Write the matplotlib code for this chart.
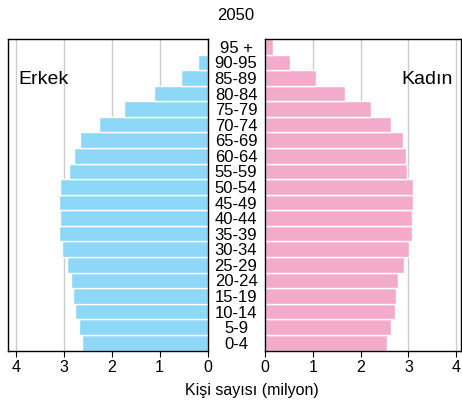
import numpy as np
import matplotlib.pyplot as plt
from matplotlib.transforms import blended_transform_factory

plt.rcParams['font.family'] = ['Liberation Sans', 'DejaVu Sans']

# age groups, bottom to top
ages = ['0-4', '5-9', '10-14', '15-19', '20-24', '25-29', '30-34', '35-39',
        '40-44', '45-49', '50-54', '55-59', '60-64', '65-69', '70-74',
        '75-79', '80-84', '85-89', '90-95', '95 +']
erkek = [2.61, 2.69, 2.77, 2.81, 2.85, 2.94, 3.03, 3.09, 3.07, 3.10,
         3.08, 2.89, 2.78, 2.66, 2.27, 1.74, 1.12, 0.55, 0.19, 0.0]
kadin = [2.56, 2.63, 2.71, 2.74, 2.79, 2.91, 3.02, 3.07, 3.07, 3.10,
         3.10, 2.97, 2.94, 2.88, 2.63, 2.21, 1.66, 1.06, 0.52, 0.155]
ticks = [0, 1, 2, 3, 4]

W, H = 462, 405
fig = plt.figure(figsize=(W / 100, H / 100), dpi=100)

bot = (H - 350.5) / H
top = (H - 39) / H
axL = fig.add_axes([8 / W, bot, (207.5 - 8) / W, top - bot])
axR = fig.add_axes([265.3 / W, bot, (461 - 265.3) / W, top - bot])

y = np.arange(len(ages))
axL.barh(y, erkek, height=1, color='#8dd7f7', edgecolor='white', linewidth=1, zorder=2)
axR.barh(y, kadin, height=1, color='#f3aacb', edgecolor='white', linewidth=1, zorder=2)

axL.set_xlim(4.165, 0)
axR.set_xlim(0, 4.1)
for ax in (axL, axR):
    ax.set_ylim(-0.5, len(ages) - 0.5)
    ax.set_yticks([])
    ax.set_xticks(ticks)
    ax.tick_params(axis='x', direction='out', length=4, labelsize=11.5, pad=3)
    ax.grid(axis='x', color='#cccccc', linewidth=1, zorder=0)
    for s in ax.spines.values():
        s.set_linewidth(1)

tr = blended_transform_factory(fig.transFigure, axL.transData)
for i, a in enumerate(ages):
    fig.text(236 / W, i, a, transform=tr, ha='center', va='center_baseline', fontsize=12)

axL.text(0.05, 0.87, 'Erkek', transform=axL.transAxes, fontsize=14, va='center', ha='left')
axR.text(0.96, 0.87, 'Kadın', transform=axR.transAxes, fontsize=14, va='center', ha='right')

fig.text(236 / W, 1 - 15 / H, '2050', ha='center', va='center', fontsize=12)
fig.text(252 / W, 1 - 390 / H, 'Kişi sayısı (milyon)', ha='center', va='center', fontsize=11.5)

fig.savefig('out.png', dpi=100)
